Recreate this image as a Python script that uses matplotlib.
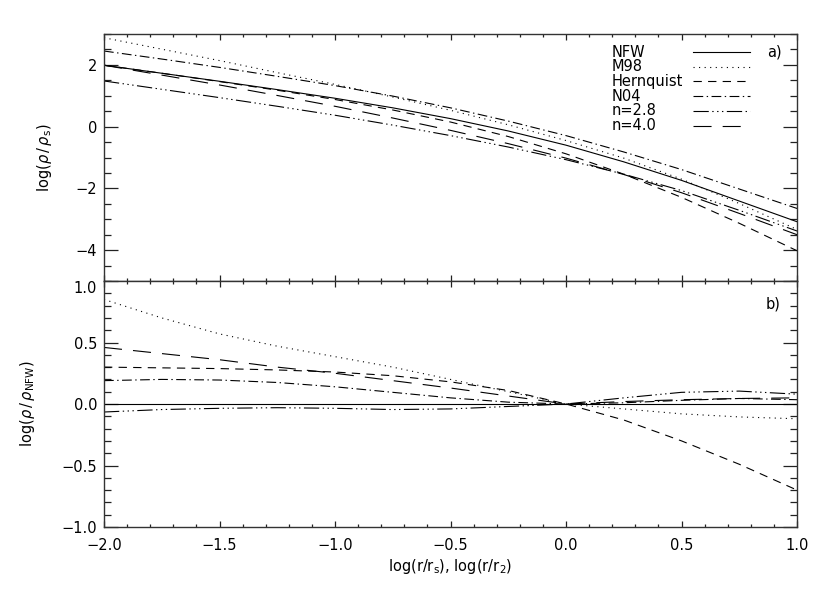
import matplotlib
matplotlib.use("Agg")
import matplotlib.pyplot as plt
from matplotlib.lines import Line2D
from matplotlib.ticker import MultipleLocator, FixedLocator, FixedFormatter

plt.rcParams['font.family'] = ['DejaVu Sans']
plt.rcParams['mathtext.fontset'] = 'dejavusans'
plt.rcParams['lines.scale_dashes'] = False

# ---------------- data ----------------
logr = [-2.0, -1.75, -1.5, -1.25, -1.0, -0.75, -0.5, -0.25, 0.0, 0.25, 0.5, 0.75, 1.0]

# panel a) log(rho/rho_s)
top_nfw  = [1.99, 1.73, 1.47, 1.20, 0.92, 0.61, 0.26, -0.14, -0.60, -1.14, -1.74, -2.41, -3.08]
top_m98  = [2.88, 2.51, 2.14, 1.75, 1.37, 0.96, 0.53, 0.06, -0.45, -1.02, -1.70, -2.49, -3.33]
top_hern = [1.99, 1.73, 1.46, 1.18, 0.88, 0.54, 0.15, -0.32, -0.88, -1.54, -2.29, -3.13, -4.02]
top_n04  = [2.45, 2.19, 1.92, 1.63, 1.33, 0.99, 0.61, 0.18, -0.29, -0.82, -1.39, -2.02, -2.65]
top_n28  = [1.48, 1.21, 0.94, 0.66, 0.37, 0.05, -0.29, -0.66, -1.07, -1.54, -2.07, -2.71, -3.38]
top_n40  = [1.99, 1.67, 1.35, 1.01, 0.66, 0.28, -0.12, -0.55, -1.02, -1.55, -2.14, -2.81, -3.50]

# panel b) log(rho/rho_NFW)
bot_nfw  = [0.0, 0.0, 0.0, 0.0, 0.0, 0.0, 0.0, 0.0, 0.0, 0.0, 0.0, 0.0, 0.0]
bot_m98  = [0.85, 0.70, 0.57, 0.47, 0.385, 0.30, 0.20, 0.10, 0.0, -0.04, -0.08, -0.105, -0.12]
bot_hern = [0.30, 0.294, 0.288, 0.277, 0.26, 0.23, 0.18, 0.11, 0.0, -0.13, -0.30, -0.49, -0.70]
bot_n04  = [0.19, 0.20, 0.195, 0.175, 0.14, 0.095, 0.05, 0.015, 0.0, 0.01, 0.03, 0.045, 0.035]
bot_n28  = [-0.065, -0.045, -0.035, -0.03, -0.035, -0.045, -0.04, -0.02, 0.0, 0.05, 0.095, 0.105, 0.08]
bot_n40  = [0.46, 0.41, 0.36, 0.30, 0.25, 0.19, 0.13, 0.065, 0.0, 0.02, 0.035, 0.045, 0.05]

labels = ['NFW', 'M98', 'Hernquist', 'N04', 'n=2.8', 'n=4.0']
top_series = [top_nfw, top_m98, top_hern, top_n04, top_n28, top_n40]
bot_series = [bot_nfw, bot_m98, bot_hern, bot_n04, bot_n28, bot_n40]

styles = ['-',
          (0, (0.8, 3.2)),
          (0, (6, 4.5)),
          (0, (7, 2.5, 1, 2.5)),
          (0, (11, 2.5, 1, 2.5, 1, 2.5, 1, 2.5)),
          (0, (13, 8))]

FS = 10.5
LW = 0.8

fig = plt.figure(figsize=(8.3, 5.94), dpi=100)
ax1 = fig.add_axes([0.1253, 0.5269, 0.835, 0.4158])
ax2 = fig.add_axes([0.1253, 0.1128, 0.835, 0.4141])

for s, ls in zip(top_series, styles):
    ax1.plot(logr, s, color='black', lw=LW, linestyle=ls)
for s, ls in zip(bot_series, styles):
    ax2.plot(logr, s, color='black', lw=LW, linestyle=ls)

for ax in (ax1, ax2):
    ax.set_xlim(-2.0, 1.0)
    ax.xaxis.set_major_locator(MultipleLocator(0.5))
    ax.xaxis.set_minor_locator(MultipleLocator(0.1))
    ax.tick_params(which='both', direction='in', top=True, right=True,
                   labelsize=FS, width=0.9, color='#222222')
    ax.tick_params(axis='y', which='major', length=10)
    ax.tick_params(axis='y', which='minor', length=5)
    ax.tick_params(axis='x', which='major', length=4.5)
    ax.tick_params(axis='x', which='minor', length=2.3)
    for sp in ax.spines.values():
        sp.set_linewidth(1.0)
        sp.set_color('#333333')

ax1.set_ylim(-5, 3)
ax1.yaxis.set_major_locator(FixedLocator([-4, -2, 0, 2]))
ax1.yaxis.set_major_formatter(FixedFormatter(['\u22124', '\u22122', '0', '2']))
ax1.yaxis.set_minor_locator(MultipleLocator(0.5))
ax1.tick_params(axis='x', labelbottom=False)
ax1.tick_params(axis='y', pad=5)

ax2.set_ylim(-1.0, 1.0)
ax2.yaxis.set_major_locator(FixedLocator([-1.0, -0.5, 0.0, 0.5, 1.0]))
ax2.yaxis.set_major_formatter(FixedFormatter(['\u22121.0', '\u22120.5', '0.0', '0.5', '1.0']))
ax2.yaxis.set_minor_locator(MultipleLocator(0.1))
ax2.xaxis.set_major_formatter(FixedFormatter(['\u22122.0', '\u22121.5', '\u22121.0', '\u22120.5', '0.0', '0.5', '1.0']))
ax2.xaxis.set_major_locator(FixedLocator([-2.0, -1.5, -1.0, -0.5, 0.0, 0.5, 1.0]))
ax2.tick_params(axis='x', pad=8)
ax2.tick_params(axis='y', pad=5)
# the top "1.0" label sits just below the panel boundary, as in the original
ax2.yaxis.get_major_ticks()[-1].label1.set_verticalalignment('top')

ax1.set_ylabel(r'log($\rho\,/\,\rho_{\rm s}$)', fontsize=FS)
ax1.yaxis.set_label_coords(-0.072, 0.5)
ax2.set_ylabel(r'log($\rho\,/\,\rho_{\rm NFW}$)', fontsize=FS)
ax2.yaxis.set_label_coords(-0.096, 0.5)
ax2.set_xlabel(r'log(r/r$_{\rm s}$), log(r/r$_{\rm 2}$)', fontsize=FS, labelpad=3)

# legend (IDL-style: labels left, line samples in a fixed column)
x_text, x_l0, x_l1 = 0.733, 0.850, 0.932
y0, dy = 0.927, 0.0595
for i, (lab, ls) in enumerate(zip(labels, styles)):
    y = y0 - i * dy
    ax1.text(x_text, y, lab, transform=ax1.transAxes, fontsize=FS,
             va='center', ha='left')
    ax1.add_line(Line2D([x_l0, x_l1], [y, y], transform=ax1.transAxes,
                        color='black', lw=LW, linestyle=ls))

ax1.text(0.957, 0.927, 'a)', transform=ax1.transAxes, fontsize=FS, va='center', ha='left')
ax2.text(0.955, 0.905, 'b)', transform=ax2.transAxes, fontsize=FS, va='center', ha='left')

fig.savefig('out.png', dpi=100)
